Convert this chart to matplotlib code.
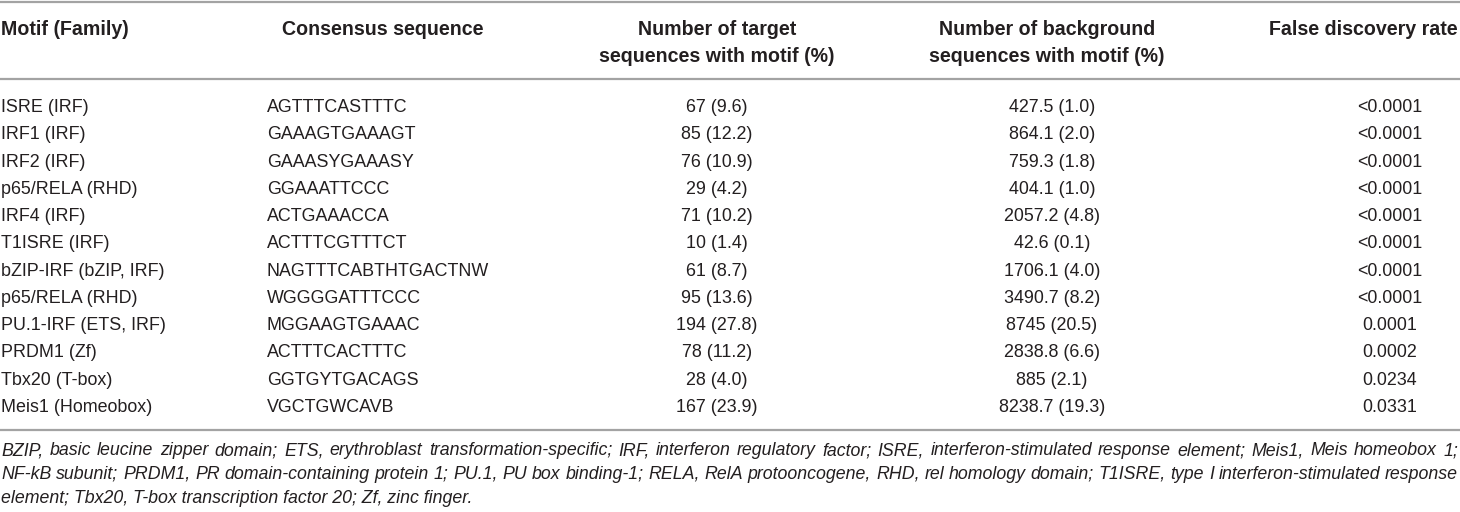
import matplotlib.pyplot as plt
from matplotlib import font_manager

# table content
motifs = ['ISRE (IRF)', 'IRF1 (IRF)', 'IRF2 (IRF)', 'p65/RELA (RHD)', 'IRF4 (IRF)',
          'T1ISRE (IRF)', 'bZIP-IRF (bZIP, IRF)', 'p65/RELA (RHD)', 'PU.1-IRF (ETS, IRF)',
          'PRDM1 (Zf)', 'Tbx20 (T-box)', 'Meis1 (Homeobox)']
consensus = ['AGTTTCASTTTC', 'GAAAGTGAAAGT', 'GAAASYGAAASY', 'GGAAATTCCC', 'ACTGAAACCA',
             'ACTTTCGTTTCT', 'NAGTTTCABTHTGACTNW', 'WGGGGATTTCCC', 'MGGAAGTGAAAC',
             'ACTTTCACTTTC', 'GGTGYTGACAGS', 'VGCTGWCAVB']
target = ['67 (9.6)', '85 (12.2)', '76 (10.9)', '29 (4.2)', '71 (10.2)', '10 (1.4)',
          '61 (8.7)', '95 (13.6)', '194 (27.8)', '78 (11.2)', '28 (4.0)', '167 (23.9)']
background = ['427.5 (1.0)', '864.1 (2.0)', '759.3 (1.8)', '404.1 (1.0)', '2057.2 (4.8)',
              '42.6 (0.1)', '1706.1 (4.0)', '3490.7 (8.2)', '8745 (20.5)', '2838.8 (6.6)',
              '885 (2.1)', '8238.7 (19.3)']
fdr = ['<0.0001'] * 8 + ['0.0001', '0.0002', '0.0234', '0.0331']

footnote_lines = [
    'BZIP, basic leucine zipper domain; ETS, erythroblast transformation-specific; IRF, interferon regulatory factor; ISRE, interferon-stimulated response element; Meis1, Meis homeobox 1;',
    'NF-kB subunit; PRDM1, PR domain-containing protein 1; PU.1, PU box binding-1; RELA, RelA protooncogene, RHD, rel homology domain; T1ISRE, type I interferon-stimulated response',
    'element; Tbx20, T-box transcription factor 20; Zf, zinc finger.',
]

names = {f.name for f in font_manager.fontManager.ttflist}
family = ['Liberation Sans', 'DejaVu Sans'] if 'Liberation Sans' in names else ['DejaVu Sans']
plt.rcParams['font.family'] = family

txt = '#231f20'
rule = '#a3a3a3'

fig = plt.figure(figsize=(14.6, 5.12), dpi=100)
ax = fig.add_axes([0, 0, 1, 1])
ax.set_xlim(0, 1460)
ax.set_ylim(512, 0)
ax.axis('off')
renderer = fig.canvas.get_renderer()

# rules
for y in (1.5, 79, 430):
    ax.plot([0, 1460], [y, y], color=rule, lw=1.6, solid_capstyle='butt')

# header
hs = 14.1
h1, h2 = 34.8, 62.5
ax.text(1, h1, 'Motif (Family)', fontsize=hs, fontweight='bold', color=txt, va='baseline')
ax.text(282, h1, 'Consensus sequence', fontsize=hs, fontweight='bold', color=txt, va='baseline')
ax.text(717, h1, 'Number of target', fontsize=hs, fontweight='bold', color=txt, va='baseline', ha='center')
ax.text(717, h2, 'sequences with motif (%)', fontsize=hs, fontweight='bold', color=txt, va='baseline', ha='center')
ax.text(1047, h1, 'Number of background', fontsize=hs, fontweight='bold', color=txt, va='baseline', ha='center')
ax.text(1047, h2, 'sequences with motif (%)', fontsize=hs, fontweight='bold', color=txt, va='baseline', ha='center')
ax.text(1458, h1, 'False discovery rate', fontsize=hs, fontweight='bold', color=txt, va='baseline', ha='right')

# body rows
ds = 12.9
step = (406 - 106) / 11
for i in range(len(motifs)):
    yb = 112 + i * step
    ax.text(1, yb, motifs[i], fontsize=ds, color=txt, va='baseline')
    ax.text(267, yb, consensus[i], fontsize=ds, color=txt, va='baseline')
    ax.text(717, yb, target[i], fontsize=ds, color=txt, va='baseline', ha='center')
    ax.text(1052, yb, background[i], fontsize=ds, color=txt, va='baseline', ha='center')
    ax.text(1390, yb, fdr[i], fontsize=ds, color=txt, va='baseline', ha='center')

# footnote: size chosen so the first line nearly fills the width, then justified
probe = ax.text(0, 0, footnote_lines[0], fontsize=10, style='italic')
fs = 10 * 1440 / probe.get_window_extent(renderer).width
probe.remove()

for k, line in enumerate(footnote_lines):
    yb = 455 + k * 23.8
    if k == len(footnote_lines) - 1:
        ax.text(1, yb, line, fontsize=fs, style='italic', color=txt, va='baseline')
        continue
    words = line.split(' ')
    items = [ax.text(0, yb, w, fontsize=fs, style='italic', color=txt, va='baseline') for w in words]
    widths = [t.get_window_extent(renderer).width for t in items]
    gap = (1458 - 1 - sum(widths)) / (len(words) - 1)
    x = 1
    for t, w in zip(items, widths):
        t.set_x(x)
        x += w + gap

fig.savefig('out.png', dpi=100)
